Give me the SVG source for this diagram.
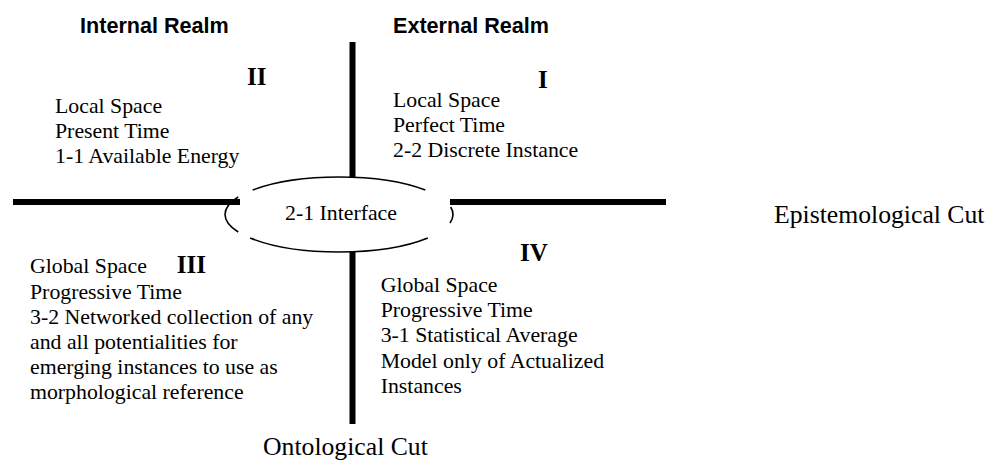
<svg xmlns="http://www.w3.org/2000/svg" width="1004" height="462" viewBox="0 0 1004 462">
<style>
.t{font-family:"Liberation Serif","Times New Roman",serif;font-size:21.8px;fill:#000}
.n{font-family:"Liberation Serif","Times New Roman",serif;font-size:25px;font-weight:bold;fill:#000}
.h{font-family:"Liberation Sans",Arial,sans-serif;font-size:21.6px;font-weight:bold;fill:#000}
.c{font-family:"Liberation Serif","Times New Roman",serif;font-size:25.7px;fill:#000}
.axis{stroke:#000;stroke-width:6;fill:none}
.ell{stroke:#000;stroke-width:1.6;fill:none}
</style>
<rect width="1004" height="462" fill="#fff"/>
<g id="connectors">
<line class="axis" x1="352.5" y1="42" x2="352.5" y2="177"/>
<line class="axis" x1="352.5" y1="252" x2="352.5" y2="424"/>
<line class="axis" x1="13" y1="202" x2="240" y2="202"/>
<line class="axis" x1="450" y1="202" x2="666" y2="202"/>
</g>
<g id="interface">
<path class="ell" d="M252.7,190 A114,37.5 0 0 1 425.3,190"/>
<path class="ell" d="M250.2,238 A114,37.5 0 0 0 427.8,238"/>
<path class="ell" d="M238.2,197 A114,37.5 0 0 0 238.2,232"/>
<path class="ell" d="M450.7,207 A114,37.5 0 0 1 450,223"/>
<text class="t" x="285" y="220">2-1 Interface</text>
</g>
<g id="headers">
<text class="h" x="80" y="33">Internal Realm</text>
<text class="h" x="393" y="33">External Realm</text>
</g>
<g id="quadrant-I">
<text class="n" x="538" y="88">I</text>
<text class="t" x="393" y="106.7">Local Space</text>
<text class="t" x="393" y="131.7">Perfect Time</text>
<text class="t" x="393" y="156.7">2-2 Discrete Instance</text>
</g>
<g id="quadrant-II">
<text class="n" x="247" y="85">II</text>
<text class="t" x="55" y="113.3">Local Space</text>
<text class="t" x="55" y="138.3">Present Time</text>
<text class="t" x="55" y="163.3">1-1 Available Energy</text>
</g>
<g id="quadrant-III">
<text class="n" x="176.7" y="273.3">III</text>
<text class="t" x="30" y="273.3">Global Space</text>
<text class="t" x="30" y="298.5">Progressive Time</text>
<text class="t" x="30" y="323.7">3-2 Networked collection of any</text>
<text class="t" x="30" y="348.9">and all potentialities for</text>
<text class="t" x="30" y="374.1">emerging instances to use as</text>
<text class="t" x="30" y="399.3">morphological reference</text>
</g>
<g id="quadrant-IV">
<text class="n" x="520" y="260.7">IV</text>
<text class="t" x="380.7" y="291.7">Global Space</text>
<text class="t" x="380.7" y="317">Progressive Time</text>
<text class="t" x="380.7" y="342.3">3-1 Statistical Average</text>
<text class="t" x="380.7" y="367.6">Model only of Actualized</text>
<text class="t" x="380.7" y="393">Instances</text>
</g>
<g id="cuts">
<text class="c" x="774" y="223.3">Epistemological Cut</text>
<text class="c" x="263" y="455">Ontological Cut</text>
</g>
</svg>
